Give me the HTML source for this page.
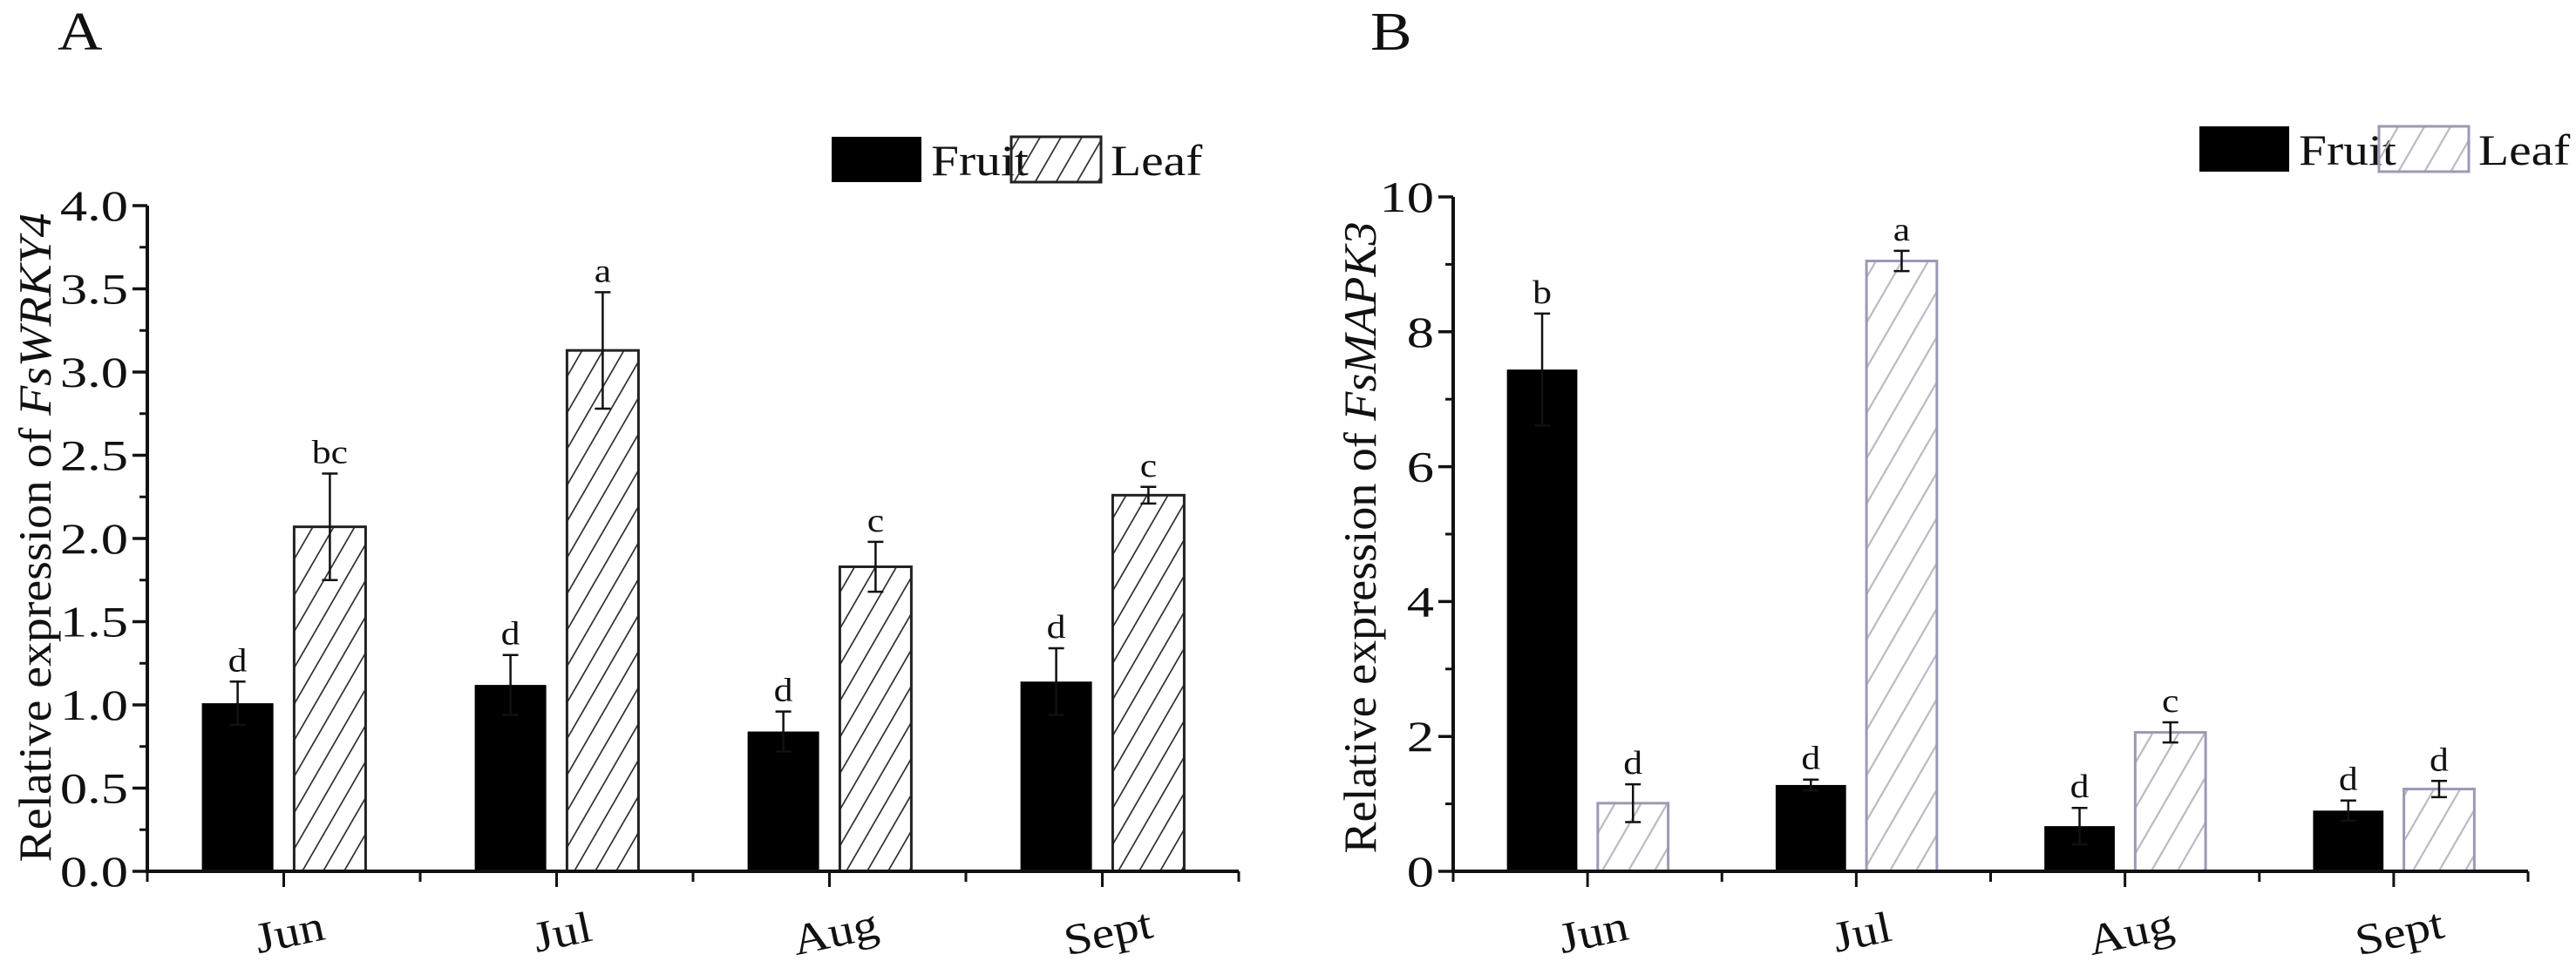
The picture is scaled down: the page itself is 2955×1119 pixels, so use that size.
<!DOCTYPE html>
<html><head><meta charset="utf-8"><style>
html,body{margin:0;padding:0;background:#fff;}
svg{display:block;font-family:"Liberation Serif",serif;}
</style></head><body>
<svg id="fig" width="2955" height="1119" viewBox="0 0 2955 1119" xmlns="http://www.w3.org/2000/svg">
<defs>
<pattern id="hatchA" patternUnits="userSpaceOnUse" width="24" height="42" patternTransform="skewX(-30)">
<line x1="12" y1="0" x2="12" y2="42" stroke="#333" stroke-width="2"/>
</pattern>
<pattern id="hatchB" patternUnits="userSpaceOnUse" width="30" height="52" patternTransform="skewX(-30)">
<line x1="15" y1="0" x2="15" y2="52" stroke="#b8b8c4" stroke-width="2.5"/>
</pattern>
</defs>
<g id="root"></g>
</svg>
<script>
const categories = ["Jun","Jul","Aug","Sept"];
const fruitA = [1.01, 1.12, 0.84, 1.14];
const fruitAErr = [0.13, 0.18, 0.12, 0.20];
const leafA = [2.07, 3.13, 1.83, 2.26];
const leafAErr = [0.32, 0.35, 0.15, 0.05];
const fruitALetters = ["d","d","d","d"];
const leafALetters = ["bc","a","c","c"];
const yTicksA = ["0.0","0.5","1.0","1.5","2.0","2.5","3.0","3.5","4.0"];

const fruitB = [7.44, 1.28, 0.67, 0.90];
const fruitBErr = [0.83, 0.08, 0.27, 0.15];
const leafB = [1.01, 9.05, 2.06, 1.22];
const leafBErr = [0.28, 0.15, 0.15, 0.12];
const fruitBLetters = ["b","d","d","d"];
const leafBLetters = ["d","a","c","d"];
const yTicksB = ["0","2","4","6","8","10"];

const NS = "http://www.w3.org/2000/svg";
const root = document.getElementById('root');
const SX = 1.15;
function mk(tag, attrs, parent){
  const e = document.createElementNS(NS, tag);
  for (const k in attrs) e.setAttribute(k, attrs[k]);
  (parent||root).appendChild(e);
  return e;
}
function txt(x, y, s, size, anchor, parent, sx){
  const t = mk('text', {transform:`translate(${x},${y}) scale(${sx||SX},1)`, 'font-size':size, 'text-anchor':anchor||'start', fill:'#111'}, parent);
  t.textContent = s;
  return t;
}

function panel(cfg){
  const g = mk('g', {});
  
  
  const x0 = cfg.x0, x1 = cfg.x1, yTop = cfg.yTop, yBase = 1000;
  const yMax = cfg.yMax;
  const ys = v => yBase - (v / yMax) * (yBase - yTop);
  const step = (x1 - x0) / categories.length;
  const cx = i => x0 + step * (i + 0.5);

  categories.forEach((c, i) => {
    const fv = cfg.fruit[i], lv = cfg.leaf[i];
    const fr = mk('rect', {x: cx(i) - step*0.3, y: ys(fv), width: step*0.262, height: yBase - ys(fv), fill:'#000'}, g);
    
    
    const lr = mk('rect', {x: cx(i) + step*0.038, y: ys(lv), width: step*0.262, height: yBase - ys(lv), fill:`url(#${cfg.hatch})`, stroke: cfg.leafStroke, 'stroke-width': 3}, g);
    
    
    [[cx(i) - step*0.169, fv, cfg.fruitErr[i], cfg.fruitLetters[i], 'fruit'], [cx(i) + step*0.169, lv, cfg.leafErr[i], cfg.leafLetters[i], 'leaf']].forEach(([bx, v, e, L, s]) => {
      const eb = mk('path', {d:`M${bx},${ys(v+e)}V${ys(v-e)}M${bx-9},${ys(v+e)}H${bx+9}M${bx-9},${ys(v-e)}H${bx+9}`, stroke:'#111', 'stroke-width':2.5, fill:'none'}, g);
      
      
      const lt = txt(bx, ys(v+e) - 12, L, 38, 'middle', g);
      
      
    });
  });

  const ax = mk('path', {d:`M${x0},${yTop}V${yBase}H${x1}`, stroke:'#111', 'stroke-width':4, fill:'none'}, g);
  
  
  cfg.yTicks.forEach((lab, k) => {
    const v = parseFloat(lab);
    const y = ys(v);
    mk('line', {x1: x0 - 17, y1: y, x2: x0, y2: y, stroke:'#111', 'stroke-width':3.5}, g);
    const t = txt(x0 - 22, y + 17, lab, 50, 'end', g, 1.25);
    
    
    if (k < cfg.yTicks.length - 1) {
      const vm = (v + parseFloat(cfg.yTicks[k+1])) / 2;
      mk('line', {x1: x0 - 9, y1: ys(vm), x2: x0, y2: ys(vm), stroke:'#111', 'stroke-width':3}, g);
    }
  });
  for (let i = 0; i <= categories.length; i++) {
    const x = x0 + step * i;
    mk('line', {x1:x, y1:yBase, x2:x, y2:yBase + 12, stroke:'#111', 'stroke-width':3}, g);
  }
  categories.forEach((c, i) => {
    mk('line', {x1:cx(i), y1:yBase, x2:cx(i), y2:yBase + 18, stroke:'#111', 'stroke-width':3}, g);
    const t = mk('text', {transform:`translate(${cx(i)+10},${1086}) rotate(-12) scale(${SX},1)`, 'font-size':50, 'text-anchor':'middle', fill:'#111'}, g);
    t.textContent = c;
    
    
  });
  const yt = mk('text', {transform:`translate(${cfg.titleX},617) rotate(-90) scale(1,${SX})`, 'font-size':46, 'text-anchor':'middle', fill:'#111', textLength: cfg.titleLen, lengthAdjust:'spacingAndGlyphs'}, g);
  
  
  yt.appendChild(document.createTextNode('Relative expression of '));
  const it = mk('tspan', {'font-style':'italic'}, yt);
  it.textContent = cfg.gene;
  const lg = mk('g', {}, g);
  
  
  const L = cfg.legend;
  const r1 = mk('rect', {x:L.x, y:L.y, width:103, height:52, fill:'#000'}, lg);
  
  
  const t1 = txt(L.x + 114, L.y + 44, 'Fruit', 50, 'start', lg);
  
  
  const r2 = mk('rect', {x:L.x + 206, y:L.y, width:103, height:52, fill:`url(#${cfg.hatch})`, stroke:cfg.leafStroke, 'stroke-width':3}, lg);
  
  
  const t2 = txt(L.x + 320, L.y + 44, 'Leaf', 50, 'start', lg);
  
  
  const pl = txt(cfg.letterX, 57, cfg.letter, 62, 'start', g);
  
  
}

panel({name:'panel-a-fswrky4-chart', x0:169, x1:1421, yTop:236, yMax:4, fruit:fruitA, fruitErr:fruitAErr, leaf:leafA, leafErr:leafAErr,
  fruitLetters:fruitALetters, leafLetters:leafALetters, yTicks:yTicksA, hatch:'hatchA', leafStroke:'#222',
  titleX:58, titleLen:745, gene:'FsWRKY4', legend:{x:954, y:157}, letter:'A', letterX:66});
panel({name:'panel-b-fsmapk3-chart', x0:1667, x1:2900, yTop:226, yMax:10, fruit:fruitB, fruitErr:fruitBErr, leaf:leafB, leafErr:leafBErr,
  fruitLetters:fruitBLetters, leafLetters:leafBLetters, yTicks:yTicksB, hatch:'hatchB', leafStroke:'#9a9ab4',
  titleX:1578, titleLen:725, gene:'FsMAPK3', legend:{x:2523, y:145}, letter:'B', letterX:1572});
</script>
</body></html>
